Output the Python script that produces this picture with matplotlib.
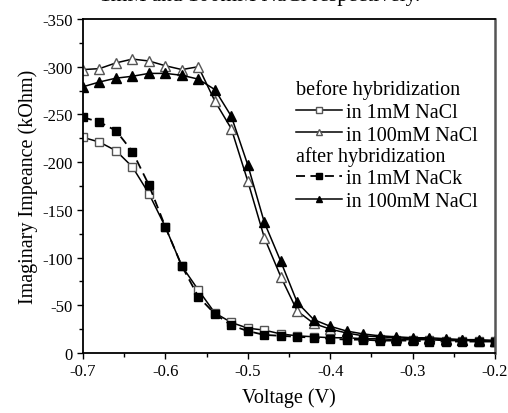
import matplotlib.pyplot as plt
from matplotlib.ticker import MultipleLocator

plt.rcParams['font.family'] = ['Liberation Serif', 'DejaVu Serif']
plt.rcParams['axes.unicode_minus'] = False

# voltage sweep (V), step 0.02
voltage = [-0.70, -0.68, -0.66, -0.64, -0.62, -0.60, -0.58, -0.56, -0.54, -0.52, -0.50,
           -0.48, -0.46, -0.44, -0.42, -0.40, -0.38, -0.36, -0.34, -0.32, -0.30,
           -0.28, -0.26, -0.24, -0.22, -0.20]

# imaginary impedance (kOhm)
before_1mM = [-226, -221, -212, -195, -167, -132, -91, -66, -42, -32, -26,
              -24, -20, -18, -17, -16, -16, -15, -15, -14, -14,
              -14, -13, -13, -13, -13]
before_100mM = [-297, -298, -304, -308, -306, -301, -297, -300, -264, -235, -180,
                -121, -80, -44, -31, -25, -21, -18, -17, -16, -15,
                -15, -14, -14, -13, -13]
after_1mM = [-247, -242, -233, -211, -176, -132, -91, -59, -41, -29, -23,
             -19, -18, -17, -16, -15, -14, -14, -13, -13, -13,
             -12, -12, -12, -12, -12]
after_100mM = [-279, -284, -288, -290, -293, -293, -291, -287, -276, -248, -197,
               -137, -96, -53, -35, -28, -23, -20, -18, -17, -16,
               -16, -15, -14, -14, -13]

fig = plt.figure(figsize=(5.08, 4.14), dpi=100)
ax = fig.add_axes([0.1634, 0.1449, 0.811, 0.8068])

open_edge = '#555555'
l1, = ax.plot(voltage, before_1mM, '-', color='black', lw=1.1, marker='s', ms=6,
              mfc='white', mec=open_edge, mew=1.0, label='in 1mM NaCl')
l2, = ax.plot(voltage, before_100mM, '-', color='black', lw=1.1, marker='^', ms=7.5,
              mfc='white', mec=open_edge, mew=1.0, label='in 100mM NaCl')
l3, = ax.plot(voltage, after_1mM, color='black', lw=1.3, ls=(0, (5, 3)), marker='s', ms=6,
              mfc='black', mec='black', label='in 1mM NaCk')
l4, = ax.plot(voltage, after_100mM, '-', color='black', lw=1.1, marker='^', ms=7.5,
              mfc='black', mec='black', label='in 100mM NaCl')

ax.set_xlim(-0.7, -0.2)
ax.set_ylim(0, -350)
ax.xaxis.set_major_locator(MultipleLocator(0.1))
ax.xaxis.set_minor_locator(MultipleLocator(0.05))
ax.yaxis.set_major_locator(MultipleLocator(50))
ax.yaxis.set_minor_locator(MultipleLocator(25))
ax.xaxis.set_major_formatter(lambda v, p: f'{v:.1f}')
ax.tick_params(which='both', direction='out', labelsize=12, width=1.0)
ax.tick_params(which='major', length=4)
ax.tick_params(which='minor', length=3)
ax.tick_params(top=False, right=False)
for s in ax.spines.values():
    s.set_linewidth(1.3)
ax.spines['right'].set_color('#555555')
ax.spines['right'].set_linewidth(1.8)

ax.set_xlabel('Voltage (V)', fontsize=14.5, labelpad=6)
ax.set_ylabel('Imaginary Impeance (kOhm)', fontsize=14.5, labelpad=3)

leg_kw = dict(frameon=False, fontsize=14.5, title_fontsize=14.5, handlelength=2.3,
              handletextpad=0.2, labelspacing=0.19, borderpad=0, borderaxespad=0,
              markerscale=0.65, alignment='left', loc='upper left')
leg1 = ax.legend(handles=[l1, l2], title='before hybridization',
                 bbox_to_anchor=(0.517, 0.820), **leg_kw)
leg1._legend_box.sep = 2.5
ax.add_artist(leg1)
leg2 = ax.legend(handles=[l3, l4], title='after hybridization',
                 bbox_to_anchor=(0.517, 0.620), **leg_kw)
leg2._legend_box.sep = 2.5

# caption from the page above, cut off by the crop
fig.text(420 / 508, 1 - 1.5 / 414, '1mM and 100mM NaCl respectively.', ha='right',
         va='baseline', fontsize=15.5)

fig.savefig('out.png', dpi=100)
